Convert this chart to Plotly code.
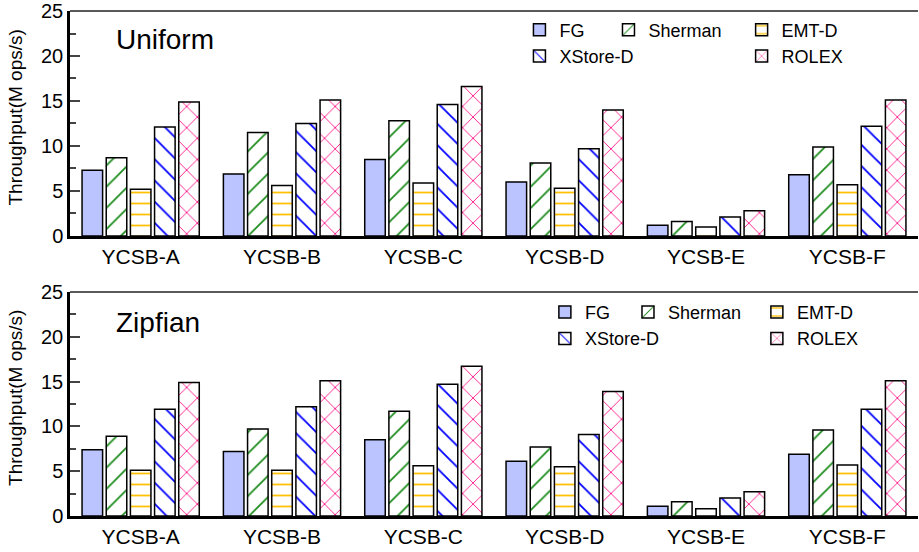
import plotly.graph_objects as go
from plotly.subplots import make_subplots

categories = ["YCSB-A", "YCSB-B", "YCSB-C", "YCSB-D", "YCSB-E", "YCSB-F"]
series_names = ["FG", "Sherman", "EMT-D", "XStore-D", "ROLEX"]

uniform_fg = [7.3, 6.9, 8.5, 6.0, 1.2, 6.8]
uniform_sherman = [8.7, 11.5, 12.8, 8.1, 1.6, 9.9]
uniform_emtd = [5.2, 5.6, 5.9, 5.3, 1.0, 5.7]
uniform_xstore = [12.1, 12.5, 14.6, 9.7, 2.1, 12.2]
uniform_rolex = [14.9, 15.1, 16.6, 14.0, 2.8, 15.1]

zipf_fg = [7.4, 7.2, 8.5, 6.1, 1.1, 6.9]
zipf_sherman = [8.9, 9.7, 11.7, 7.7, 1.6, 9.6]
zipf_emtd = [5.1, 5.1, 5.6, 5.5, 0.8, 5.7]
zipf_xstore = [11.9, 12.2, 14.7, 9.1, 2.0, 11.9]
zipf_rolex = [14.9, 15.1, 16.7, 13.9, 2.7, 15.1]

y_ticks = [0, 5, 10, 15, 20, 25]
y_title = "Throughput(M ops/s)"
panel_titles = ["Uniform", "Zipfian"]

styles = {
    "FG": dict(color="#BBC4FF", pattern=dict(shape="")),
    "Sherman": dict(color="white", pattern=dict(shape="/", fgcolor="#1E8C1E", bgcolor="white", size=15, solidity=0.12, fgopacity=1)),
    "EMT-D": dict(color="white", pattern=dict(shape="-", fgcolor="#FFC000", bgcolor="white", size=11, solidity=0.16, fgopacity=1)),
    "XStore-D": dict(color="white", pattern=dict(shape="\\", fgcolor="#0000FF", bgcolor="white", size=15, solidity=0.12, fgopacity=1)),
    "ROLEX": dict(color="white", pattern=dict(shape="x", fgcolor="#FF1A8C", bgcolor="white", size=15, solidity=0.12, fgopacity=1)),
}

fig = make_subplots(rows=2, cols=1)

panels = [
    ([uniform_fg, uniform_sherman, uniform_emtd, uniform_xstore, uniform_rolex], 1,
     {"FG": "legend", "XStore-D": "legend", "Sherman": "legend2", "EMT-D": "legend3", "ROLEX": "legend3"}),
    ([zipf_fg, zipf_sherman, zipf_emtd, zipf_xstore, zipf_rolex], 2,
     {"FG": "legend4", "XStore-D": "legend4", "Sherman": "legend5", "EMT-D": "legend6", "ROLEX": "legend6"}),
]

for values, row, legmap in panels:
    for name, vals in zip(series_names, values):
        st = styles[name]
        fig.add_trace(go.Bar(
            x=categories, y=vals, name=name, legend=legmap[name],
            marker=dict(color=st["color"], pattern=st["pattern"],
                        line=dict(color="black", width=1.5)),
        ), row=row, col=1)

fig.update_layout(
    width=919, height=552,
    margin=dict(l=70, r=1, t=11, b=36, autoexpand=False),
    plot_bgcolor="white", paper_bgcolor="white",
    font=dict(family="Liberation Sans, Arial", color="black", size=18),
    bargap=0.145, bargroupgap=0.15,
    barmode="group",
)

fig.update_yaxes(range=[0, 25], tickvals=y_ticks, ticks="inside", ticklen=10, tickwidth=2,
                 showline=True, linewidth=2.5, linecolor="black", showgrid=False, zeroline=False,
                 tickfont=dict(size=20), ticklabeloverflow="allow", automargin=False,
                 minor=dict(ticks="inside", ticklen=6, tickwidth=2, dtick=2.5, showgrid=False))
fig.update_xaxes(showline=True, linewidth=3, linecolor="black", showgrid=False, ticks="",
                 tickfont=dict(size=21), range=[-0.5, 5.5], automargin=False)

fig.update_layout(yaxis=dict(domain=[0.5545, 1.0]), yaxis2=dict(domain=[0.0, 0.4436]))

# top border lines
for xr, yr in [("x domain", "y domain"), ("x2 domain", "y2 domain")]:
    fig.add_shape(type="line", xref=xr, yref=yr,
                  x0=0, x1=1, y0=1, y1=1, line=dict(color="#222", width=1.5))

# y-axis titles
for yc in [0.789, 0.2337]:
    fig.add_annotation(text=y_title, xref="paper", yref="paper", x=-0.0637, y=yc,
                       textangle=-90, showarrow=False, xanchor="center", yanchor="middle",
                       font=dict(size=19))

fig.add_annotation(text=panel_titles[0], xref="paper", yref="paper", x=0.052, y=0.943,
                   showarrow=False, xanchor="left", yanchor="middle", font=dict(size=28))
fig.add_annotation(text=panel_titles[1], xref="paper", yref="paper", x=0.052, y=0.384,
                   showarrow=False, xanchor="left", yanchor="middle", font=dict(size=28))

leg_common = dict(bgcolor="rgba(0,0,0,0)", font=dict(size=18), xanchor="left", yanchor="top",
                  tracegroupgap=0, itemwidth=30)
fig.update_layout(
    legend=dict(x=0.53, y=0.999, **leg_common),
    legend2=dict(x=0.635, y=0.999, **leg_common),
    legend3=dict(x=0.792, y=0.999, **leg_common),
    legend4=dict(x=0.56, y=0.44, **leg_common),
    legend5=dict(x=0.658, y=0.44, **leg_common),
    legend6=dict(x=0.81, y=0.44, **leg_common),
)

fig.write_html("out.html")
